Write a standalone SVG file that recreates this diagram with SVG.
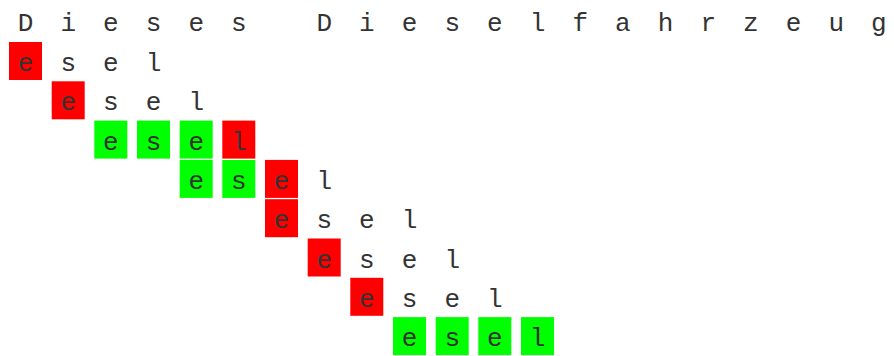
<svg xmlns="http://www.w3.org/2000/svg" width="894" height="356" viewBox="0 0 894 356">
<style>
text{font-family:"Liberation Mono","DejaVu Sans Mono",monospace;font-size:26px;fill:#333;text-anchor:middle}
.r{fill:#ff0000}
.g{fill:#00ff00}
</style>
<rect width="894" height="356" fill="#fff"/>
<g id="text-row">
<text x="25.5" y="31">D</text><text x="68.2" y="31">i</text><text x="110.8" y="31">e</text><text x="153.5" y="31">s</text><text x="196.2" y="31">e</text><text x="238.8" y="31">s</text>
<text x="324.2" y="31">D</text><text x="366.8" y="31">i</text><text x="409.5" y="31">e</text><text x="452.2" y="31">s</text><text x="494.8" y="31">e</text><text x="537.5" y="31">l</text><text x="580.2" y="31">f</text><text x="622.8" y="31">a</text><text x="665.5" y="31">h</text><text x="708.2" y="31">r</text><text x="750.8" y="31">z</text><text x="793.5" y="31">e</text><text x="836.2" y="31">u</text><text x="878.8" y="31">g</text>
</g>
<g id="try1">
<rect class="r" x="9" y="42" width="33" height="38"/>
<text x="25.5" y="71">e</text><text x="68.2" y="71">s</text><text x="110.8" y="71">e</text><text x="153.5" y="71">l</text>
</g>
<g id="try2">
<rect class="r" x="51.7" y="81.3" width="33" height="38"/>
<text x="68.2" y="110.3">e</text><text x="110.8" y="110.3">s</text><text x="153.5" y="110.3">e</text><text x="196.2" y="110.3">l</text>
</g>
<g id="try3">
<rect class="g" x="94.3" y="120.6" width="33" height="38"/>
<rect class="g" x="137" y="120.6" width="33" height="38"/>
<rect class="g" x="179.7" y="120.6" width="33" height="38"/>
<rect class="r" x="222.3" y="120.6" width="33" height="38"/>
<text x="110.8" y="149.6">e</text><text x="153.5" y="149.6">s</text><text x="196.2" y="149.6">e</text><text x="238.8" y="149.6">l</text>
</g>
<g id="try4">
<rect class="g" x="179.7" y="159.9" width="33" height="38"/>
<rect class="g" x="222.3" y="159.9" width="33" height="38"/>
<rect class="r" x="265" y="159.9" width="33" height="38"/>
<text x="196.2" y="188.9">e</text><text x="238.8" y="188.9">s</text><text x="281.5" y="188.9">e</text><text x="324.2" y="188.9">l</text>
</g>
<g id="try5">
<rect class="r" x="265" y="199.2" width="33" height="38"/>
<text x="281.5" y="228.2">e</text><text x="324.2" y="228.2">s</text><text x="366.8" y="228.2">e</text><text x="409.5" y="228.2">l</text>
</g>
<g id="try6">
<rect class="r" x="307.7" y="238.5" width="33" height="38"/>
<text x="324.2" y="267.5">e</text><text x="366.8" y="267.5">s</text><text x="409.5" y="267.5">e</text><text x="452.2" y="267.5">l</text>
</g>
<g id="try7">
<rect class="r" x="350.3" y="277.8" width="33" height="38"/>
<text x="366.8" y="306.8">e</text><text x="409.5" y="306.8">s</text><text x="452.2" y="306.8">e</text><text x="494.8" y="306.8">l</text>
</g>
<g id="try8">
<rect class="g" x="393" y="317.1" width="33" height="38"/>
<rect class="g" x="435.7" y="317.1" width="33" height="38"/>
<rect class="g" x="478.3" y="317.1" width="33" height="38"/>
<rect class="g" x="521" y="317.1" width="33" height="38"/>
<text x="409.5" y="346.1">e</text><text x="452.2" y="346.1">s</text><text x="494.8" y="346.1">e</text><text x="537.5" y="346.1">l</text>
</g>
<g id="connectors"/>
</svg>
